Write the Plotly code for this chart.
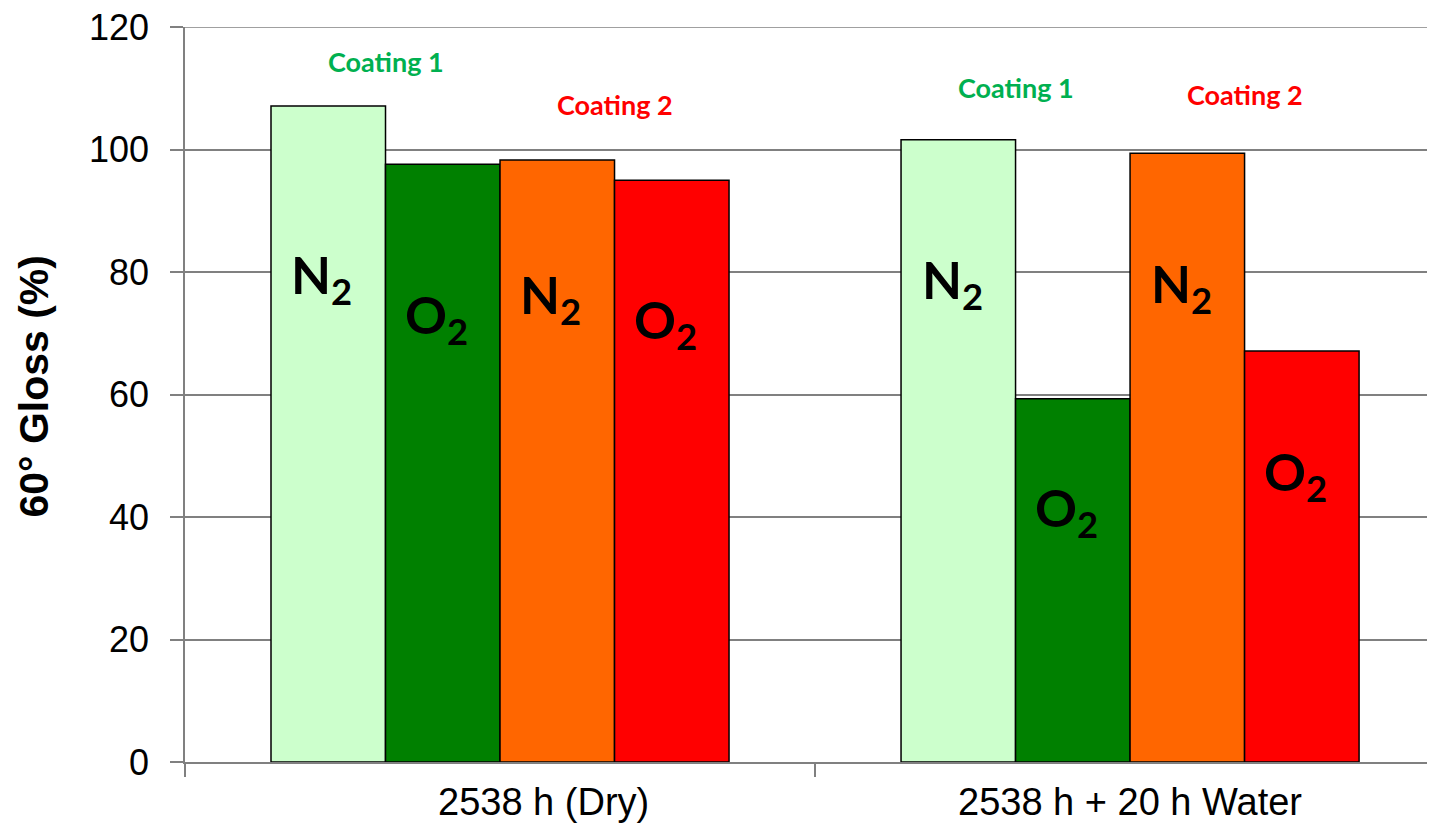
import plotly.graph_objects as go

# ---- data ----
categories = ["2538 h (Dry)", "2538 h + 20 h Water"]
series_names = ["Coating 1 N2", "Coating 1 O2", "Coating 2 N2", "Coating 2 O2"]
coating1_n2 = [107.1, 101.6]
coating1_o2 = [97.6, 59.3]
coating2_n2 = [98.3, 99.4]
coating2_o2 = [95.0, 67.1]
bar_labels = ["N<sub>2</sub>", "O<sub>2</sub>", "N<sub>2</sub>", "O<sub>2</sub>"]
# vertical placement of in-bar labels (in axis units), per category
label_y = [[79.0, 72.5, 75.7, 71.6], [78.2, 41.0, 77.5, 46.8]]
coating_titles = ["Coating 1", "Coating 2"]
coating_title_y = [[114.3, 107.4], [110.2, 108.9]]
y_ticks = [0, 20, 40, 60, 80, 100, 120]

colors = ["#CCFFCC", "#008000", "#FF6600", "#FF0000"]
coating_colors = ["#00B050", "#FF0000"]
values = [coating1_n2, coating1_o2, coating2_n2, coating2_o2]

bargap = 0.273
bar_w = (1 - bargap) / 4
x_idx = list(range(len(categories)))

# page has an 8px body margin; figure is sized/margined to compensate
FIG_W, FIG_H = 1427, 820
M_L, M_R, M_T, M_B = 177, 0, 19, 66
plot_w = FIG_W - M_L - M_R

fig = go.Figure()
for name, vals, col in zip(series_names, values, colors):
    fig.add_trace(go.Bar(
        x=x_idx, y=vals, name=name,
        marker=dict(color=col, line=dict(color="#000000", width=1.5)),
        showlegend=False, hoverinfo="y"))

ann = []
label_font = dict(family="Lato, Open Sans, sans-serif", size=52, color="#000000")
for ci in x_idx:
    for si in range(4):
        xc = ci + (si - 1.5) * bar_w - 0.01
        ann.append(dict(x=xc, y=label_y[ci][si], xref="x", yref="y",
                        text="<b>%s</b>" % bar_labels[si], showarrow=False,
                        font=label_font, xanchor="center", yanchor="middle"))
    for k in range(2):
        ann.append(dict(x=ci + (2 * k - 1) * bar_w,
                        y=coating_title_y[ci][k], xref="x", yref="y",
                        text="<b>%s</b>" % coating_titles[k], showarrow=False,
                        font=dict(family="Lato, Open Sans, sans-serif", size=27,
                                  color=coating_colors[k]),
                        xanchor="center", yanchor="middle"))
    ann.append(dict(x=ci, y=0, xref="x", yref="y", text=categories[ci],
                    showarrow=False, yanchor="top", yshift=-17,
                    xshift=(43 if ci == 0 else 0),
                    font=dict(family="Liberation Sans, Arial", size=38, color="#000000")))

ann.append(dict(x=(25 - M_L) / plot_w, y=0.5, xref="paper", yref="paper",
                text="<b>60° Gloss (%)</b>", yshift=8,
                textangle=-90, showarrow=False, xanchor="center", yanchor="middle",
                font=dict(family="Liberation Sans, Arial", size=41, color="#000000")))

fig.update_layout(
    width=FIG_W, height=FIG_H,
    margin=dict(l=M_L, r=M_R, t=M_T, b=M_B, autoexpand=False),
    paper_bgcolor="#FFFFFF", plot_bgcolor="#FFFFFF",
    barmode="group", bargap=bargap, bargroupgap=0,
    annotations=ann,
    # top gridline (plotly drops the gridline lying on the plot edge)
    shapes=[dict(type="line", xref="paper", x0=0, x1=1, yref="y",
                 y0=y_ticks[-1], y1=y_ticks[-1], layer="below",
                 line=dict(color="#808080", width=1.5))],
    xaxis=dict(range=[-0.5, 1.484], tickvals=[-0.5, 0.5, 1.5], ticks="outside",
               ticklen=13, tickcolor="#808080", tickwidth=1.5, showticklabels=False,
               showline=True, linecolor="#808080", linewidth=1.5,
               showgrid=False, zeroline=False, automargin=False),
    yaxis=dict(range=[0, 120], tickvals=y_ticks, ticks="outside", ticklen=13,
               tickcolor="#808080", tickwidth=1.5, showline=True, linecolor="#808080",
               linewidth=1.5, showgrid=True, gridcolor="#808080", gridwidth=1.5,
               zeroline=False, ticklabelstandoff=14, automargin=False,
               ticklabeloverflow="allow",
               tickfont=dict(family="Liberation Sans, Arial", size=36, color="#000000")),
)

fig.write_html("out.html")
